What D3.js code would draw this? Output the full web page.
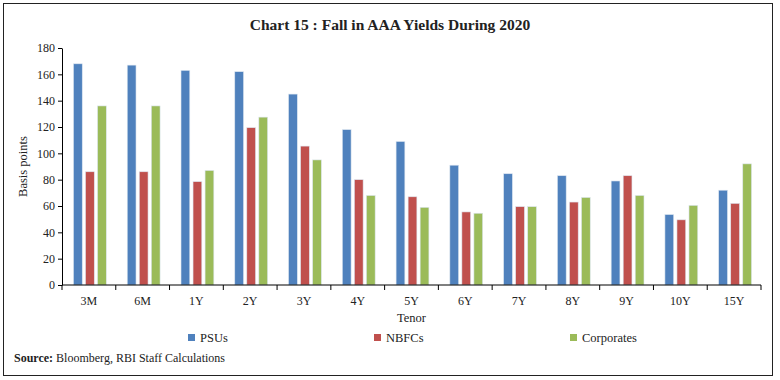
<!DOCTYPE html>
<html><head>
<meta charset="utf-8">
<script src="https://cdn.jsdelivr.net/npm/d3@7"></script>
<style>
  body { margin: 0; background: #fff; }
  text { font-family: "Liberation Serif", "DejaVu Serif", serif; fill: #222; }
  .axis text { font-size: 12px; }
  .axis path, .axis line { stroke: #000; }
</style>
</head>
<body>
<svg id="chart" width="780" height="380"></svg>
<script>
// tenors and the three series (basis points)
const tenors = ["3M","6M","1Y","2Y","3Y","4Y","5Y","6Y","7Y","8Y","9Y","10Y","15Y"];
const seriesNames = ["PSUs","NBFCs","Corporates"];
const psus       = [168, 167, 163, 162, 145, 118, 109, 91, 84.5, 83, 79, 53.5, 72];
const nbfcs      = [86, 86, 78.5, 119.5, 105.5, 80, 67, 55.5, 59.5, 63, 83, 49.5, 62];
const corporates = [136, 136, 87, 127.5, 95, 68, 59, 54.5, 59.5, 66.5, 68, 60.5, 92];
const yTicks = [0,20,40,60,80,100,120,140,160,180];
const colors = ["#4F81BD","#C0504D","#9BBB59"];

const svg = d3.select("#chart");
const margin = {left: 62, right: 19, top: 48, bottom: 95};
const width = 780, height = 380;

// outer frame
svg.append("rect").attr("x",3.5).attr("y",3.5).attr("width",769).attr("height",372)
   .attr("fill","none").attr("stroke","#222").attr("stroke-width",1);

svg.append("text").attr("x",390).attr("y",30).attr("text-anchor","middle")
   .style("font-size","15.5px").style("font-weight","bold")
   .text("Chart 15 : Fall in AAA Yields During 2020");

const x = d3.scaleBand().domain(tenors).range([margin.left, width - margin.right]);
const xs = d3.scaleBand().domain(seriesNames).range([1, x.bandwidth() + 1]).paddingInner(0.27).paddingOuter(0.87);
const y = d3.scaleLinear().domain([0,180]).range([height - margin.bottom, margin.top]);

const data = tenors.map((t,i) => ({tenor: t, vals: [psus[i], nbfcs[i], corporates[i]]}));

const groups = svg.append("g").selectAll("g").data(data).join("g")
   .attr("transform", d => "translate(" + x(d.tenor) + ",0)");
groups.selectAll("rect").data(d => d.vals.map((v,j) => ({name: seriesNames[j], v: v, c: colors[j]})))
   .join("rect")
   .attr("x", d => xs(d.name)).attr("width", xs.bandwidth())
   .attr("y", d => y(d.v)).attr("height", d => y(0) - y(d.v))
   .attr("fill", d => d.c).attr("stroke", "#dde6f0").attr("stroke-width", 0.6);

// y axis
svg.append("g").attr("class","axis").attr("transform","translate(" + margin.left + ",0)")
   .call(d3.axisLeft(y).tickValues(yTicks).tickSize(4).tickPadding(3).tickSizeOuter(0));

// x axis with ticks at band boundaries
const xa = svg.append("g").attr("class","axis").attr("transform","translate(0," + y(0) + ")");
xa.append("line").attr("x1", margin.left).attr("x2", width - margin.right).attr("stroke","#000");
xa.selectAll("line.tick").data(tenors.concat(["end"])).join("line").attr("class","tick")
   .attr("x1", (d,i) => margin.left + i * x.step()).attr("x2", (d,i) => margin.left + i * x.step())
   .attr("y1", 0).attr("y2", 5).attr("stroke","#000");
xa.selectAll("text").data(tenors).join("text")
   .attr("x", d => x(d) + x.bandwidth()/2).attr("y", 20).attr("text-anchor","middle").text(d => d);

svg.append("text").attr("x", (margin.left + width - margin.right)/2).attr("y", 322)
   .attr("text-anchor","middle").style("font-size","12.5px").text("Tenor");

svg.append("text").attr("transform","translate(27," + ((margin.top + height - margin.bottom)/2) + ") rotate(-90)")
   .attr("text-anchor","middle").style("font-size","12.5px").text("Basis points");

// legend
const legendX = [188, 374, 570];
const lg = svg.append("g").selectAll("g").data(seriesNames).join("g")
   .attr("transform", (d,i) => "translate(" + legendX[i] + ",338)");
lg.append("rect").attr("x",0).attr("y",-4).attr("width",7).attr("height",7).attr("fill",(d,i) => colors[i]);
lg.append("text").attr("x",12).attr("y",4).style("font-size","12.5px").text(d => d);

const src = svg.append("text").attr("x",14).attr("y",362).style("font-size","12px");
src.append("tspan").style("font-weight","bold").text("Source: ");
src.append("tspan").text("Bloomberg, RBI Staff Calculations");
</script>
</body>
</html>
